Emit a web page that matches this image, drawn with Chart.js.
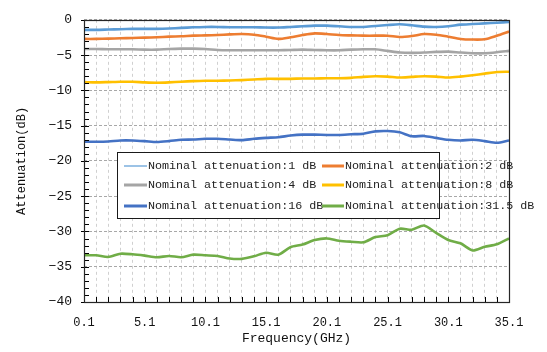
<!DOCTYPE html>
<html>
<head>
<meta charset="utf-8">
<script src="https://cdn.jsdelivr.net/npm/chart.js@4.4.1/dist/chart.umd.min.js"></script>
<style>
html,body{margin:0;padding:0;background:#fff;}
#wrap{width:547px;height:352px;position:relative;}
</style>
</head>
<body>
<div id="wrap"><canvas id="c"></canvas></div>
<script>
// ---- data ----
const freq = [0.1,1.1,2.1,3.1,4.1,5.1,6.1,7.1,8.1,9.1,10.1,11.1,12.1,13.1,14.1,15.1,16.1,17.1,18.1,19.1,20.1,21.1,22.1,23.1,24.1,25.1,26.1,27.1,28.1,29.1,30.1,31.1,32.1,33.1,34.1,35.1];
const xTickLabels = ['0.1','5.1','10.1','15.1','20.1','25.1','30.1','35.1'];
const seriesNames = ['Nominal attenuation:1 dB','Nominal attenuation:2 dB','Nominal attenuation:4 dB','Nominal attenuation:8 dB','Nominal attenuation:16 dB','Nominal attenuation:31.5 dB'];
const att1 = [-1.43,-1.43,-1.38,-1.33,-1.29,-1.29,-1.29,-1.24,-1.15,-1.06,-1.01,-1.01,-1.06,-1.06,-1.06,-1.10,-1.10,-1.01,-0.92,-0.83,-0.83,-0.92,-1.01,-1.01,-0.87,-0.74,-0.64,-0.78,-0.97,-1.01,-0.92,-0.69,-0.60,-0.51,-0.41,-0.32];
const att2 = [-2.71,-2.71,-2.67,-2.62,-2.57,-2.53,-2.48,-2.39,-2.34,-2.25,-2.21,-2.16,-2.07,-2.02,-2.11,-2.39,-2.71,-2.48,-2.16,-1.93,-2.02,-2.16,-2.21,-2.25,-2.25,-2.25,-2.44,-2.30,-2.02,-2.11,-2.39,-2.71,-2.80,-2.76,-2.25,-1.66];
const att4 = [-4.14,-4.14,-4.18,-4.18,-4.18,-4.23,-4.23,-4.14,-4.09,-4.09,-4.14,-4.28,-4.32,-4.32,-4.32,-4.32,-4.32,-4.28,-4.23,-4.28,-4.32,-4.32,-4.23,-4.18,-4.18,-4.41,-4.64,-4.69,-4.64,-4.55,-4.51,-4.64,-4.74,-4.74,-4.60,-4.41];
const att8 = [-8.83,-8.87,-8.83,-8.78,-8.78,-8.87,-8.92,-8.87,-8.78,-8.69,-8.64,-8.64,-8.60,-8.55,-8.46,-8.37,-8.37,-8.37,-8.32,-8.32,-8.28,-8.28,-8.23,-8.09,-8.00,-8.05,-8.18,-8.09,-8.00,-8.05,-8.18,-8.05,-7.86,-7.63,-7.40,-7.36];
const att16 = [-17.29,-17.29,-17.24,-17.10,-17.10,-17.20,-17.33,-17.20,-17.01,-16.97,-16.87,-16.87,-16.97,-17.06,-16.87,-16.74,-16.64,-16.41,-16.28,-16.28,-16.32,-16.32,-16.23,-16.14,-15.82,-15.77,-15.95,-16.51,-16.46,-16.74,-17.01,-17.10,-17.01,-17.20,-17.43,-17.10];
const att31 = [-33.38,-33.38,-33.61,-33.15,-33.24,-33.43,-33.66,-33.47,-33.66,-33.29,-33.38,-33.47,-33.84,-33.89,-33.52,-33.01,-33.29,-32.23,-31.86,-31.22,-30.99,-31.31,-31.45,-31.54,-30.80,-30.53,-29.61,-29.75,-29.15,-30.21,-31.22,-31.68,-32.69,-32.18,-31.82,-30.99];
const yMin = -40, yMax = 0, yStep = 5;

const colors = ['#5B9BD5','#ED7D31','#A5A5A5','#FFC000','#4472C4','#70AD47'];
const allSeries = [att1, att2, att4, att8, att16, att31];
const FONT = '"Liberation Mono", "DejaVu Sans Mono", monospace';

const datasets = allSeries.map((s, i) => ({
  label: seriesNames[i],
  data: s.map((v, j) => ({x: freq[j], y: v})),
  borderColor: colors[i],
  backgroundColor: colors[i],
  borderWidth: 2.6,
  pointRadius: 0,
  tension: 0.25,
  fill: false
}));

const framePlugin = {
  id: 'frame',
  afterDatasetsDraw(chart) {
    const {ctx, chartArea: a, scales} = chart;
    const xs = scales.x, ys = scales.y;
    ctx.save();
    ctx.strokeStyle = '#000';
    ctx.lineWidth = 1;
    ctx.beginPath();
    freq.forEach(f => {
      const px = Math.round(xs.getPixelForValue(f)) + 0.5;
      ctx.moveTo(px, a.bottom);
      ctx.lineTo(px, a.bottom - 5);
    });
    for (let v = yMin; v <= yMax; v += 1) {
      const py = Math.round(ys.getPixelForValue(v)) + 0.5;
      const major = (v % yStep) === 0;
      ctx.moveTo(a.left - (major ? 3 : 0), py);
      ctx.lineTo(a.left + 5, py);
    }
    ctx.stroke();
    ctx.strokeStyle = '#262626';
    ctx.lineWidth = 1.2;
    ctx.strokeRect(Math.round(a.left) + 0.5, Math.round(a.top) + 0.5, Math.round(a.right - a.left), Math.round(a.bottom - a.top));
    ctx.restore();
  },
  afterDraw(chart) {
    const {ctx} = chart;
    ctx.save();
    const bx = 117, by = 152, bw = 322, bh = 66;
    ctx.fillStyle = '#fff';
    ctx.fillRect(bx, by, bw, bh);
    ctx.strokeStyle = '#1a1a1a';
    ctx.lineWidth = 1;
    ctx.strokeRect(bx + 0.5, by + 0.5, bw, bh);
    const rows = [166, 185, 206];
    const cols = [{l0: 124, l1: 147, t: 148}, {l0: 322, l1: 344, t: 345}];
    ctx.font = '11.7px ' + FONT;
    ctx.textBaseline = 'middle';
    ctx.textAlign = 'left';
    chart.data.datasets.forEach((ds, i) => {
      const r = rows[Math.floor(i / 2)], c = cols[i % 2];
      ctx.strokeStyle = ds.borderColor;
      ctx.lineWidth = i === 0 ? 1.2 : 3;
      ctx.beginPath();
      ctx.moveTo(c.l0, r);
      ctx.lineTo(c.l1, r);
      ctx.stroke();
      ctx.fillStyle = '#222';
      ctx.fillText(ds.label, c.t, r);
    });
    ctx.restore();
  }
};

new Chart(document.getElementById('c'), {
  type: 'line',
  data: {datasets},
  options: {
    responsive: true,
    maintainAspectRatio: false,
    animation: false,
    devicePixelRatio: 1,
    layout: {padding: {left: 0, top: 12, right: 38, bottom: 0}},
    plugins: {legend: {display: false}, tooltip: {enabled: false}},
    scales: {
      x: {
        type: 'linear',
        min: 0.1,
        max: 35.1,
        afterBuildTicks: (scale) => { scale.ticks = freq.map(v => ({value: v})); },
        afterFit: (scale) => { scale.height = 50; },
        ticks: {
          autoSkip: false,
          maxRotation: 0,
          padding: 14,
          color: '#111',
          font: {family: FONT, size: 12},
          callback: (v) => { const s = Number(v).toFixed(1); return xTickLabels.includes(s) ? s : ''; }
        },
        grid: {color: '#d0d0d0', drawTicks: false, lineWidth: 1},
        border: {display: false, dash: [3, 3]},
        title: {display: true, text: 'Frequency(GHz)', color: '#111', font: {family: FONT, size: 13}, padding: {top: 0, bottom: 6}}
      },
      y: {
        type: 'linear',
        min: yMin,
        max: yMax,
        afterFit: (scale) => { scale.width = 84; },
        ticks: {
          stepSize: yStep,
          padding: 12,
          color: '#111',
          font: {family: FONT, size: 13},
          callback: (v) => String(v).replace('-', '\u2212')
        },
        grid: {color: '#a8a8a8', drawTicks: false, lineWidth: 1},
        border: {display: false, dash: [3, 2]},
        title: {display: true, text: 'Attenuation(dB)', color: '#111', font: {family: FONT, size: 12}, padding: {top: 15, bottom: 0}}
      }
    }
  },
  plugins: [framePlugin]
});
</script>
</body>
</html>
